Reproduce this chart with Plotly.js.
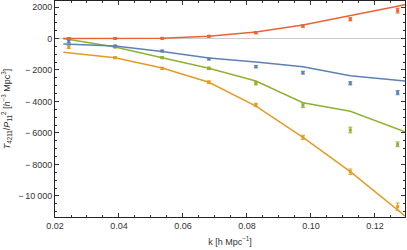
<!DOCTYPE html>
<html>
<head>
<meta charset="utf-8">
<script src="https://cdn.plot.ly/plotly-3.0.1.min.js"></script>
<style>html,body{margin:0;padding:0;background:#fff;}#chart{width:407px;height:250px;}</style>
</head>
<body>
<div id="chart"></div>
<script>
// data points (k in h/Mpc)
const kData = [0.0243, 0.0388, 0.0535, 0.0681, 0.0828, 0.0975, 0.1123, 0.1271];
const redData = [0, 0, 10, 140, 368, 794, 1219, 1765];
const redErr = [60, 50, 50, 60, 70, 80, 100, 150];
const blueData = [-190, -476, -794, -1300, -1790, -2170, -2845, -3440];
const blueErr = [100, 50, 50, 60, 70, 90, 100, 130];
const greenData = [-30, -540, -1220, -1895, -2845, -4240, -5810, -6720];
const greenErr = [60, 50, 60, 80, 100, 150, 180, 150];
const orangeData = [-540, -1220, -1895, -2780, -4220, -6275, -8460, -10680];
const orangeErr = [100, 60, 70, 90, 110, 130, 170, 230];

// model lines
const kLine = [0.0226, 0.0388, 0.0535, 0.0681, 0.0828, 0.0975, 0.1123, 0.1271, 0.1294];
const redLine = [0, 0, 20, 150, 410, 857, 1448, 2030, 2146];
const blueLine = [-350, -476, -825, -1240, -1490, -1790, -2360, -2635, -2700];
const greenLine = [0, -540, -1220, -1895, -2700, -4076, -4620, -5766, -5918];
const orangeLine = [-876, -1220, -1870, -2780, -4290, -6275, -8460, -10920, -11270];

// ticks
const yTickVals = [2000, 0, -2000, -4000, -6000, -8000, -10000];
const yTickText = ['2000', '0', '\u2212\u20092000', '\u2212\u20094000', '\u2212\u20096000', '\u2212\u20098000', '\u2212\u200910\u2009000'];
const xTickVals = [0.02, 0.04, 0.06, 0.08, 0.10, 0.12];
const xTickText = ['0.02', '0.04', '0.06', '0.08', '0.10', '0.12'];

const cBlue = '#5E81B5', cOrange = '#E19C24', cGreen = '#8FB131', cRed = '#EB6235';

function lineTrace(y, c) {
  return {x: kLine, y: y, mode: 'lines', line: {color: c, width: 1.5}, hoverinfo: 'skip', showlegend: false};
}
function ptTrace(y, e, c) {
  return {x: kData, y: y, mode: 'markers', marker: {color: c, size: 3, symbol: 'square'},
    error_y: {type: 'data', array: e, visible: true, color: c, thickness: 1, width: 2},
    showlegend: false};
}

const traces = [
  lineTrace(orangeLine, cOrange), lineTrace(greenLine, cGreen), lineTrace(blueLine, cBlue), lineTrace(redLine, cRed),
  ptTrace(orangeData, orangeErr, cOrange), ptTrace(greenData, greenErr, cGreen), ptTrace(blueData, blueErr, cBlue), ptTrace(redData, redErr, cRed)
];

const axFont = {family: 'Liberation Sans, Arial, sans-serif', size: 9, color: '#333'};
const layout = {
  width: 407, height: 250,
  margin: {l: 55, r: 2, t: 1, b: 33},
  paper_bgcolor: '#fff', plot_bgcolor: '#fff',
  showlegend: false,
  xaxis: {
    range: [0.02, 0.1294], tickvals: xTickVals, ticktext: xTickText,
    ticks: 'inside', ticklen: 4, tickcolor: '#333', tickwidth: 1,
    minor: {dtick: 0.005, tick0: 0.02, ticks: 'inside', ticklen: 2, tickcolor: '#333', showgrid: false},
    showgrid: false, zeroline: false,
    showline: true, linecolor: '#222', linewidth: 1, mirror: 'allticks',
    tickfont: axFont,
    title: {text: 'k [h Mpc<sup>\u22121</sup>]', font: axFont, standoff: 8}
  },
  yaxis: {
    range: [-11335, 2381], tickvals: yTickVals, ticktext: yTickText,
    ticks: 'inside', ticklen: 4, tickcolor: '#333', tickwidth: 1,
    minor: {dtick: 500, tick0: 0, ticks: 'inside', ticklen: 2, tickcolor: '#333', showgrid: false},
    showgrid: false, zeroline: true, zerolinecolor: '#cccccc', zerolinewidth: 1,
    showline: true, linecolor: '#222', linewidth: 1, mirror: 'allticks',
    tickfont: axFont,
    title: {text: '<i>T</i><sub>4211</sub>/<i>P</i><sub>11</sub><sup>2</sup> [<i>h</i><sup>\u22123</sup> Mpc<sup>3</sup>]', font: axFont, standoff: 6}
  }
};
Plotly.newPlot('chart', traces, layout, {staticPlot: true, displayModeBar: false});
</script>
</body>
</html>
